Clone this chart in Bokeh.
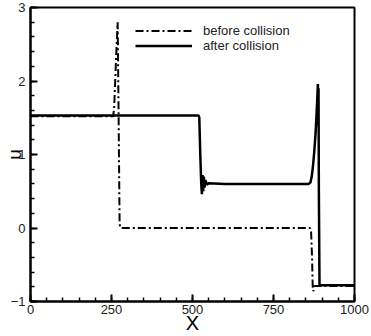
from bokeh.plotting import figure
from bokeh.models import Range1d, SingleIntervalTicker
from bokeh.embed import file_html
from bokeh.resources import INLINE

# before collision (dash-dot)
x_before = [0, 255, 258, 261, 264, 267, 269, 272, 275, 278, 863, 866, 869, 871, 873, 876, 1000]
u_before = [1.52, 1.52, 1.62, 1.95, 2.3, 2.6, 2.8, 1.5, 0.05, 0.0, 0.0, -0.05, -0.4, -0.8, -0.86, -0.79, -0.79]

# after collision (solid)
x_after = [0, 519, 521, 524, 527, 529, 531, 533, 535, 537, 540, 544, 550, 600, 700, 800, 858,
           864, 868, 872, 876, 880, 884, 887, 888, 889, 890, 892, 895, 1000]
u_after = [1.53, 1.53, 1.5, 1.0, 0.6, 0.46, 0.72, 0.5, 0.7, 0.55, 0.65, 0.59, 0.61, 0.6, 0.6, 0.6, 0.6,
           0.62, 0.7, 0.85, 1.05, 1.3, 1.65, 1.96, 1.4, 1.9, 0.5, -0.78, -0.78, -0.78]

labels = ["before collision", "after collision"]
x_title = "X"
y_title = "u"

FONT = "Liberation Sans"

p = figure(width=371, height=336, output_backend="svg", toolbar_location=None,
           x_range=Range1d(0, 1000), y_range=Range1d(-1, 3),
           min_border_left=30, min_border_right=17, min_border_top=7, min_border_bottom=34)
p.grid.visible = False
p.background_fill_color = "white"
p.border_fill_color = "white"
p.outline_line_color = "black"
p.outline_line_width = 2
p.outline_line_alpha = 1

p.line(x_before, u_before, line_color="black", line_width=2, line_dash="8 3 2 3",
       legend_label=labels[0])
p.line(x_after, u_after, line_color="black", line_width=2.5, legend_label=labels[1])

p.xaxis.ticker = SingleIntervalTicker(interval=250, num_minor_ticks=5)
p.yaxis.ticker = SingleIntervalTicker(interval=1, num_minor_ticks=5)
for ax in (p.xaxis[0], p.yaxis[0]):
    ax.axis_line_width = 2
    ax.axis_line_color = "black"
    ax.major_tick_in = 7
    ax.major_tick_out = 0
    ax.minor_tick_in = 4
    ax.minor_tick_out = 0
    ax.major_tick_line_width = 2
    ax.major_tick_line_color = "black"
    ax.minor_tick_line_width = 1.5
    ax.minor_tick_line_color = "black"
    ax.major_label_text_font = FONT
    ax.major_label_text_font_size = "13px"
    ax.major_label_text_color = "#222222"
    ax.major_label_standoff = 3
    ax.axis_label_text_font = FONT
    ax.axis_label_text_font_style = "normal"
    ax.axis_label_text_color = "black"

p.xaxis.axis_label = x_title
p.xaxis.axis_label_text_font_size = "20px"
p.xaxis.axis_label_standoff = -5
p.yaxis.axis_label = y_title
p.yaxis.axis_label_text_font_size = "19px"
p.yaxis.major_label_standoff = 5
p.yaxis.axis_label_standoff = -17

lg = p.legend[0]
lg.location = (105, 248)
lg.border_line_alpha = 0
lg.background_fill_alpha = 0
lg.padding = 0
lg.margin = 0
lg.spacing = 0
lg.glyph_width = 57
lg.glyph_height = 15
lg.label_height = 15
lg.label_standoff = 11
lg.label_text_font = FONT
lg.label_text_font_size = "13px"
lg.label_text_color = "#222222"

open("out.html", "w").write(file_html(p, INLINE))
